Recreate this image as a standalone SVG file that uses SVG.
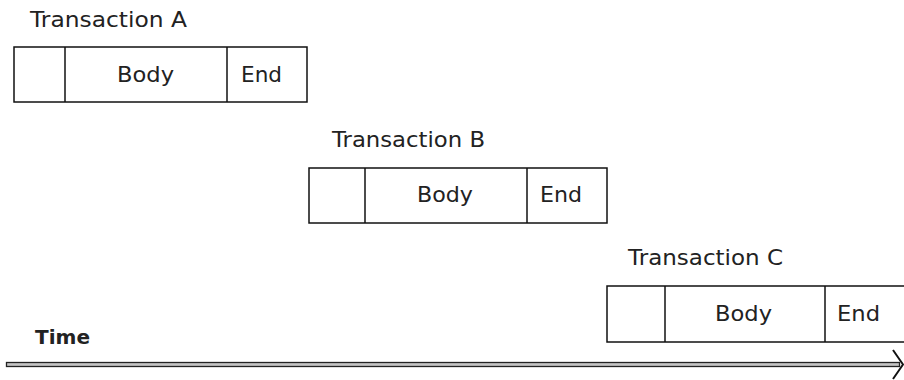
<svg xmlns="http://www.w3.org/2000/svg" width="904" height="380" viewBox="0 0 904 380">
  <style>
    .cell { fill: #ffffff; stroke: #111111; stroke-width: 1.5; }
    .div { stroke: #111111; stroke-width: 1.5; }
    .lbl { font-family: "DejaVu Sans", "Liberation Sans", sans-serif; font-size: 22px; fill: #222222; }
    .axis-lbl { font-family: "DejaVu Sans", "Liberation Sans", sans-serif; font-size: 19px; font-weight: bold; fill: #222222; }
  </style>
  <rect width="904" height="380" fill="#ffffff"/>

  <!-- Transaction A -->
  <g id="transaction-a">
    <text class="lbl" x="30" y="27" textLength="157" lengthAdjust="spacingAndGlyphs">Transaction A</text>
    <rect class="cell" x="14" y="47" width="293" height="55"/>
    <line class="div" x1="65" y1="47" x2="65" y2="102"/>
    <line class="div" x1="227" y1="47" x2="227" y2="102"/>
    <text class="lbl" x="117" y="82" textLength="57" lengthAdjust="spacingAndGlyphs">Body</text>
    <text class="lbl" x="241" y="82" textLength="41" lengthAdjust="spacingAndGlyphs">End</text>
  </g>

  <!-- Transaction B -->
  <g id="transaction-b">
    <text class="lbl" x="332" y="147" textLength="153" lengthAdjust="spacingAndGlyphs">Transaction B</text>
    <rect class="cell" x="309" y="168" width="298" height="55"/>
    <line class="div" x1="365" y1="168" x2="365" y2="223"/>
    <line class="div" x1="527" y1="168" x2="527" y2="223"/>
    <text class="lbl" x="417" y="202" textLength="56" lengthAdjust="spacingAndGlyphs">Body</text>
    <text class="lbl" x="540" y="202" textLength="42" lengthAdjust="spacingAndGlyphs">End</text>
  </g>

  <!-- Transaction C -->
  <g id="transaction-c">
    <text class="lbl" x="628" y="265" textLength="155" lengthAdjust="spacingAndGlyphs">Transaction C</text>
    <rect class="cell" x="607" y="286" width="300" height="56"/>
    <line class="div" x1="665" y1="286" x2="665" y2="342"/>
    <line class="div" x1="825" y1="286" x2="825" y2="342"/>
    <text class="lbl" x="715" y="321" textLength="57" lengthAdjust="spacingAndGlyphs">Body</text>
    <text class="lbl" x="837" y="321" textLength="43" lengthAdjust="spacingAndGlyphs">End</text>
  </g>

  <!-- Time axis -->
  <g id="connectors">
    <rect x="6.5" y="362.5" width="893" height="4" fill="#c4c4c4" stroke="#222222" stroke-width="1.3"/>
    <polyline points="893,350 903,364.5 893,379" fill="none" stroke="#111111" stroke-width="2"/>
  </g>
  <g id="time-label">
    <text class="axis-lbl" x="35" y="344" textLength="55" lengthAdjust="spacingAndGlyphs">Time</text>
  </g>
</svg>
